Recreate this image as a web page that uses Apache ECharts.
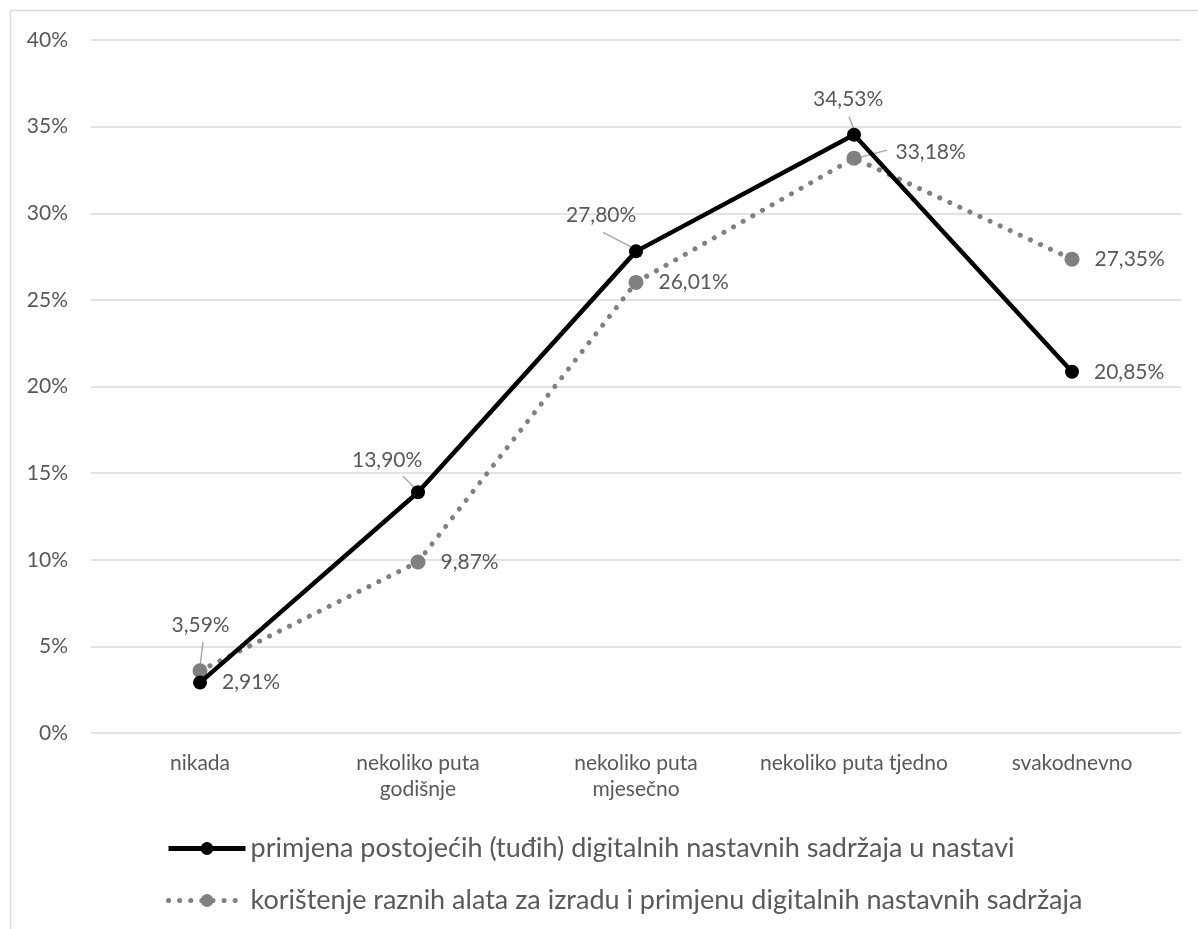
<!DOCTYPE html>
<html><head><meta charset="utf-8">
<script src="https://cdn.jsdelivr.net/npm/echarts@6/dist/echarts.min.js"></script>
<style>html,body{margin:0;padding:0;background:#fff}#c{width:1198px;height:929px}</style>
</head><body><div id="c"></div>
<script>
const categories = ['nikada', 'nekoliko puta\ngodišnje', 'nekoliko puta\nmjesečno', 'nekoliko puta tjedno', 'svakodnevno'];
const seriesNames = ['primjena postojećih (tuđih) digitalnih nastavnih sadržaja u nastavi', 'korištenje raznih alata za izradu i primjenu digitalnih nastavnih sadržaja'];
const valuesA = [2.91, 13.90, 27.80, 34.53, 20.85];
const valuesB = [3.59, 9.87, 26.01, 33.18, 27.35];
const yTicks = [0, 5, 10, 15, 20, 25, 30, 35, 40];

const fmt = v => v.toFixed(2).replace('.', ',') + '%';
const font = 'Lato, "Open Sans", sans-serif';
const txt = '#595959';
// label displacement (dx, dy) from the default right-hand position
const layoutA = [null, {dx: -88, dy: -32}, {dx: -92, dy: -36}, {dx: -63, dy: -36}, null];
const layoutB = [{dx: -51, dy: -46}, null, null, {dx: 19, dy: -6}, null];
// leader line pixel offsets relative to the data point: [startX, startY, endX, endY]
const leaderA = [null, [-15, -16, -2, -3], [-33, -19, -4, -4], [-5, -18, 0, -5], null];
const leaderB = [[3, -29, 0, -4], null, null, [33, -8, 3, 0], null];

const leaderData = [];
valuesA.forEach((v, i) => { if (leaderA[i]) leaderData.push([i, v].concat(leaderA[i])); });
valuesB.forEach((v, i) => { if (leaderB[i]) leaderData.push([i, v].concat(leaderB[i])); });

const chart = echarts.init(document.getElementById('c'), null, {renderer: 'canvas'});
chart.setOption({
  backgroundColor: '#fff',
  animation: false,
  graphic: [{type: 'rect', shape: {x: 10.5, y: 10.5, width: 1200, height: 930}, style: {fill: 'none', stroke: '#d9d9d9', lineWidth: 1.5}}],
  grid: {left: 91, right: 17, top: 40, bottom: 196},
  xAxis: {
    type: 'category', data: categories, boundaryGap: true,
    axisLine: {show: false}, axisTick: {show: false},
    axisLabel: {interval: 0, color: txt, fontFamily: font, fontSize: 21, margin: 17, lineHeight: 26}
  },
  yAxis: {
    type: 'value', min: 0, max: 40, interval: 5,
    axisLabel: {color: txt, fontFamily: font, fontSize: 21, margin: 23, formatter: v => yTicks.includes(v) ? v + '%' : ''},
    splitLine: {lineStyle: {color: '#d9d9d9', width: 1.5}},
    axisLine: {show: false}, axisTick: {show: false}
  },
  legend: {
    orient: 'vertical', left: 161, top: 828, itemWidth: 77, itemHeight: 16, itemGap: 21,
    textStyle: {color: txt, fontFamily: font, fontSize: 27, lineHeight: 31},
    data: [
      {name: seriesNames[0], lineStyle: {width: 5, color: '#000'}, itemStyle: {color: '#000'}},
      {name: seriesNames[1], lineStyle: {width: 5, color: '#808080', type: [0.1, 11], cap: 'round'}, itemStyle: {color: '#808080'}}
    ]
  },
  series: [
    {
      type: 'custom', name: 'leaders', silent: true, z: 1, data: leaderData,
      renderItem: (params, api) => {
        const p = api.coord([api.value(0), api.value(1)]);
        return {type: 'line', shape: {x1: p[0] + api.value(2), y1: p[1] + api.value(3), x2: p[0] + api.value(4), y2: p[1] + api.value(5)},
                style: {stroke: '#a6a6a6', lineWidth: 1.4}};
      }
    },
    {
      name: seriesNames[0], type: 'line', data: valuesA, z: 3,
      symbol: 'circle', symbolSize: 14,
      lineStyle: {color: '#000', width: 4.5},
      itemStyle: {color: '#000'},
      label: {show: true, position: 'right', distance: 15, color: txt, fontFamily: font, fontSize: 21, formatter: p => fmt(p.value)},
      labelLayout: p => layoutA[p.dataIndex] || {}
    },
    {
      name: seriesNames[1], type: 'line', data: valuesB, z: 2,
      symbol: 'circle', symbolSize: 15,
      lineStyle: {color: '#808080', width: 5, type: [0.1, 11], cap: 'round'},
      itemStyle: {color: '#808080'},
      label: {show: true, position: 'right', distance: 15, color: txt, fontFamily: font, fontSize: 21, formatter: p => fmt(p.value)},
      labelLayout: p => layoutB[p.dataIndex] || {}
    }
  ]
});
</script></body></html>
